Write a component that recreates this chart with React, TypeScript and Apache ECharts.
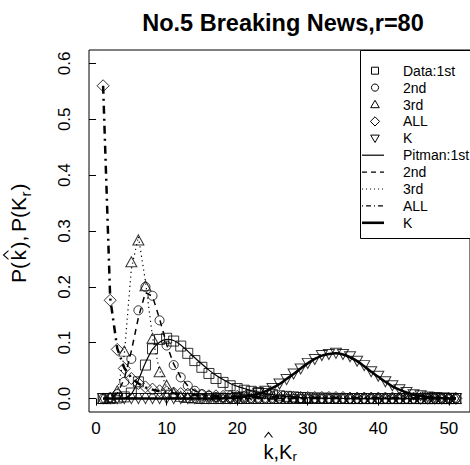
import React, { useEffect, useRef } from 'react';
import * as echarts from 'echarts';

const FONT = "'Liberation Sans', Arial, Helvetica, sans-serif";

const ks = [
  1, 2, 3, 4, 5, 6, 7, 8, 9, 10,
  11, 12, 13, 14, 15, 16, 17, 18, 19, 20,
  21, 22, 23, 24, 25, 26, 27, 28, 29, 30,
  31, 32, 33, 34, 35, 36, 37, 38, 39, 40,
  41, 42, 43, 44, 45, 46, 47, 48, 49, 50,
  51,
];

const data1st = [
  0, 0, 0.001, 0.003, 0.01, 0.03, 0.06, 0.089, 0.106, 0.108,
  0.103, 0.094, 0.081, 0.068, 0.056, 0.045, 0.036, 0.029, 0.023, 0.018,
  0.015, 0.013, 0.011, 0.009, 0.007, 0.005, 0.004, 0.003, 0.002, 0.0015,
  0.001, 0.0008, 0.0005, 0.0003, 0.0002, 0, 0, 0, 0, 0,
  0, 0, 0, 0, 0, 0, 0, 0, 0, 0,
  0,
];
const data2nd = [
  0, 0.002, 0.008, 0.03, 0.071, 0.158, 0.2, 0.184, 0.14, 0.095,
  0.06, 0.038, 0.023, 0.014, 0.008, 0.005, 0.003, 0.002, 0.001, 0.0005,
  0, 0, 0, 0, 0, 0, 0, 0, 0, 0,
  0, 0, 0, 0, 0, 0, 0, 0, 0, 0,
  0, 0, 0, 0, 0, 0, 0, 0, 0, 0,
  0,
];
const data3rd = [
  0, 0.002, 0.014, 0.085, 0.245, 0.284, 0.202, 0.108, 0.048, 0.024,
  0.01, 0.004, 0.002, 0.001, 0, 0, 0, 0, 0, 0,
  0, 0, 0, 0, 0, 0, 0, 0, 0, 0,
  0, 0, 0, 0, 0, 0, 0, 0, 0, 0,
  0, 0, 0, 0, 0, 0, 0, 0, 0, 0,
  0,
];
const dataAll = [
  0.56, 0.176, 0.088, 0.054, 0.036, 0.027, 0.021, 0.017, 0.014, 0.012,
  0.01, 0.009, 0.008, 0.007, 0.006, 0.005, 0.005, 0.004, 0.004, 0.004,
  0.003, 0.003, 0.003, 0.003, 0.003, 0.002, 0.002, 0.002, 0.002, 0.002,
  0.002, 0.002, 0.002, 0.002, 0.002, 0.001, 0.001, 0.001, 0.001, 0.001,
  0.001, 0.001, 0.001, 0.001, 0.001, 0.0005, 0.0005, 0.0005, 0.0005, 0.0005,
  0.0005,
];
const dataK = [
  0, 0, 0, 0, 0, 0, 0, 0, 0, 0,
  0, 0, 0, 0, 0, 0, 0, 0, 0, 0.002,
  0.003, 0.006, 0.009, 0.013, 0.018, 0.026, 0.034, 0.044, 0.053, 0.063,
  0.07, 0.077, 0.079, 0.081, 0.079, 0.075, 0.067, 0.059, 0.048, 0.04,
  0.03, 0.023, 0.016, 0.011, 0.007, 0.005, 0.003, 0.002, 0.001, 0.0005,
  0.0002,
];

const pit1st = [
  0, 0, 0, 0.001, 0.008, 0.033, 0.064, 0.088, 0.101, 0.106,
  0.104, 0.096, 0.085, 0.073, 0.062, 0.051, 0.042, 0.034, 0.027, 0.022,
  0.018, 0.014, 0.011, 0.009, 0.007, 0.005, 0.004, 0.003, 0.002, 0.0015,
  0.001, 0.0007, 0.0005, 0.0003, 0.0002, 0.0001, 0, 0, 0, 0,
  0, 0, 0, 0, 0, 0, 0, 0, 0, 0,
  0,
];
const pit2nd = [
  0, 0.001, 0.009, 0.035, 0.085, 0.145, 0.19, 0.183, 0.143, 0.097,
  0.062, 0.038, 0.023, 0.014, 0.008, 0.0045, 0.0025, 0.0014, 0.0008, 0.0004,
  0, 0, 0, 0, 0, 0, 0, 0, 0, 0,
  0, 0, 0, 0, 0, 0, 0, 0, 0, 0,
  0, 0, 0, 0, 0, 0, 0, 0, 0, 0,
  0,
];
const pit3rd = [
  0, 0.001, 0.012, 0.078, 0.232, 0.29, 0.21, 0.11, 0.05, 0.021,
  0.009, 0.004, 0.0015, 0.0006, 0, 0, 0, 0, 0, 0,
  0, 0, 0, 0, 0, 0, 0, 0, 0, 0,
  0, 0, 0, 0, 0, 0, 0, 0, 0, 0,
  0, 0, 0, 0, 0, 0, 0, 0, 0, 0,
  0,
];
const pitAll = [
  0.56, 0.18, 0.09, 0.055, 0.037, 0.027, 0.02, 0.016, 0.013, 0.011,
  0.0095, 0.0085, 0.0075, 0.0065, 0.006, 0.0055, 0.005, 0.0045, 0.004, 0.0038,
  0.0035, 0.0032, 0.003, 0.0028, 0.0026, 0.0024, 0.0022, 0.002, 0.0019, 0.0018,
  0.0017, 0.0016, 0.0015, 0.0014, 0.0013, 0.0012, 0.0012, 0.0011, 0.001, 0.001,
  0.0009, 0.0009, 0.0008, 0.0008, 0.0007, 0.0007, 0.0006, 0.0006, 0.0006, 0.0005,
  0.0005,
];
const pitK = [
  0, 0, 0, 0, 0, 0, 0, 0, 0, 0,
  0, 0, 0, 0, 0, 0, 0, 0.0005, 0.001, 0.002,
  0.0035, 0.0055, 0.0085, 0.013, 0.019, 0.026, 0.035, 0.044, 0.054, 0.063,
  0.071, 0.077, 0.08, 0.081, 0.079, 0.074, 0.067, 0.058, 0.048, 0.039,
  0.03, 0.022, 0.016, 0.011, 0.007, 0.0045, 0.0028, 0.0016, 0.0009, 0.0005,
  0.0002,
];

const xTicks = [0, 10, 20, 30, 40, 50];
const yTicks = [0, 0.1, 0.2, 0.3, 0.4, 0.5, 0.6];

const legendLabels = ['Data:1st', '2nd', '3rd', 'ALL', 'K', 'Pitman:1st', '2nd', '3rd', 'ALL', 'K'];
const titleText = 'No.5 Breaking News,r=80';

const pts = (vals: number[]) => ks.map((k, i) => [k, vals[i]]);

// text helper: place text so that its alphabetic baseline sits at y
const txt = (text: string, x: number, baseY: number, fs: number, extra: any = {}) => ({
  type: 'text',
  x,
  y: baseY - 0.3465 * fs,
  style: { text, fontSize: fs, fontFamily: FONT, fill: '#000', align: 'left', verticalAlign: 'middle', ...extra },
});

export default function App() {
  const ref = useRef<HTMLDivElement>(null);
  useEffect(() => {
    const chart = echarts.init(ref.current!, null, { renderer: 'svg' });
    const hollow = { color: 'rgba(0,0,0,0)', borderColor: '#000', borderWidth: 1 };
    const scatter = (name: string, vals: number[], symbol: string, size: any, rotate = 0) => ({
      type: 'scatter',
      name,
      data: pts(vals),
      symbol,
      symbolSize: size,
      symbolRotate: rotate,
      itemStyle: hollow,
      z: 3,
      silent: true,
    });
    const line = (name: string, vals: number[], width: number, type: any, smooth: any = false) => ({
      type: 'line',
      name,
      data: pts(vals),
      symbol: 'none',
      showSymbol: false,
      smooth,
      lineStyle: { color: '#000', width, type },
      itemStyle: { color: '#000' },
      z: 2,
      silent: true,
    });

    // ---- legend (drawn as graphic) ----
    const LX = 375; // symbol column centre
    const LTX = 403; // text column
    const row = (i: number) => 70.7 + 16.9 * i;
    const stroke = { stroke: '#000', fill: 'none', lineWidth: 1 };
    const legendEls: any[] = [
      {
        type: 'rect',
        shape: { x: 360.5, y: 50.5, width: 200, height: 188 },
        style: { fill: '#fff', stroke: '#000', lineWidth: 1 },
      },
      { type: 'rect', shape: { x: LX - 3.5, y: row(0) - 3.5, width: 7, height: 7 }, style: stroke },
      { type: 'circle', shape: { cx: LX, cy: row(1), r: 3.6 }, style: stroke },
      {
        type: 'polygon',
        shape: { points: [[LX, row(2) - 4.2], [LX + 4.3, row(2) + 3.2], [LX - 4.3, row(2) + 3.2]] },
        style: stroke,
      },
      {
        type: 'polygon',
        shape: { points: [[LX, row(3) - 4.6], [LX + 4.6, row(3)], [LX, row(3) + 4.6], [LX - 4.6, row(3)]] },
        style: stroke,
      },
      {
        type: 'polygon',
        shape: { points: [[LX - 4.3, row(4) - 3.2], [LX + 4.3, row(4) - 3.2], [LX, row(4) + 4.2]] },
        style: stroke,
      },
    ];
    const lineSpecs: any[] = [
      { w: 1.2, dash: null },
      { w: 1.3, dash: [5, 4] },
      { w: 1, dash: [1, 3] },
      { w: 1.3, dash: [1, 3, 5, 3] },
      { w: 2.6, dash: null },
    ];
    lineSpecs.forEach((s, j) => {
      const y = row(5 + j);
      legendEls.push({
        type: 'line',
        shape: { x1: 362, y1: y, x2: 384, y2: y },
        style: { stroke: '#000', lineWidth: s.w, lineDash: s.dash || undefined },
      });
    });
    legendLabels.forEach((t, i) => {
      legendEls.push({
        type: 'text',
        x: LTX,
        y: row(i),
        style: { text: t, fontSize: 14, fontFamily: FONT, fill: '#000', align: 'left', verticalAlign: 'middle' },
      });
    });

    // ---- axis titles ----
    const FS = 20;
    const SUB = 13;
    // x title: k-hat , K_r   centred at 280, baseline 459
    const x0 = 263.5;
    const xb = 459;
    const xTitle = {
      type: 'group',
      children: [
        txt('k', x0, xb, FS),
        txt(',K', x0 + 10, xb, FS),
        txt('r', x0 + 28.9, xb + 2.5, SUB),
        {
          type: 'polyline',
          shape: { points: [[x0 + 1, 437.5], [x0 + 5, 432.5], [x0 + 9, 437.5]] },
          style: { stroke: '#000', lineWidth: 1.1, fill: 'none' },
        },
      ],
    };
    // y title: P(k-hat),P(K_r) rotated, baseline at screen x=26, centred at y=232.5
    const YF = 21;
    const s0 = -50.4;
    const yTitle = {
      type: 'group',
      x: 26,
      y: 232.5,
      rotation: Math.PI / 2,
      children: [
        txt('P(', s0, 0, YF),
        txt('k', s0 + 22.5, 0, YF),
        txt('),', s0 + 34.5, 0, YF),
        txt('P(K', s0 + 50.8, 0, YF),
        txt('r', s0 + 86.3, 4.5, 15),
        txt(')', s0 + 92.3, 0, YF),
        {
          type: 'polyline',
          shape: {
            points: [
              [s0 + 23.6, -17.5],
              [s0 + 27.9, -22.5],
              [s0 + 32.2, -17.5],
            ],
          },
          style: { stroke: '#000', lineWidth: 1.1, fill: 'none' },
        },
      ],
    };

    chart.setOption({
      animation: false,
      backgroundColor: '#fff',
      title: {
        text: titleText,
        left: 283,
        top: 10.5,
        textAlign: 'center',
        padding: 0,
        textStyle: { fontFamily: FONT, fontSize: 23.5, fontWeight: 'bold', color: '#000' },
      },
      grid: {
        left: 89,
        top: 50,
        width: 393,
        height: 362,
        show: true,
        borderColor: '#000',
        borderWidth: 1,
        backgroundColor: 'rgba(0,0,0,0)',
      },
      xAxis: {
        type: 'value',
        min: -1,
        max: 53,
        splitLine: { show: false },
        axisLine: { show: false },
        axisTick: { show: true, length: 7, lineStyle: { color: '#000' }, customValues: xTicks },
        axisLabel: { margin: 7.5, fontSize: 17, fontFamily: FONT, color: '#000', customValues: xTicks },
      },
      yAxis: {
        type: 'value',
        min: -0.024,
        max: 0.624,
        splitLine: { show: false },
        axisLine: { show: false },
        axisTick: { show: true, length: 7, lineStyle: { color: '#000' }, customValues: yTicks },
        axisLabel: {
          rotate: 90,
          margin: 16,
          fontSize: 17,
          fontFamily: FONT,
          color: '#000',
          customValues: yTicks,
          formatter: (v: number) => v.toFixed(1),
        },
      },
      graphic: [
        { type: 'group', z: 10, children: legendEls },
        { ...xTitle, z: 10 },
        { ...yTitle, z: 10 },
      ],
      series: [
        scatter('Data:1st', data1st, 'rect', 10),
        scatter('Data:2nd', data2nd, 'circle', 9),
        scatter('Data:3rd', data3rd, 'triangle', [11, 10]),
        scatter('Data:ALL', dataAll, 'diamond', 12),
        scatter('Data:K', dataK, 'triangle', [11, 10], 180),
        line('Pitman:1st', pit1st, 1.2, 'solid', 0.25),
        line('Pitman:2nd', pit2nd, 1.5, [6, 5]),
        line('Pitman:3rd', pit3rd, 1.2, [1.2, 3.5]),
        line('Pitman:ALL', pitAll, 2.5, [8, 5, 2, 5]),
        line('Pitman:K', pitK, 2.5, 'solid', 0.25),
      ],
    });
    return () => chart.dispose();
  }, []);
  return (
    <div
      ref={ref}
      style={{ position: 'fixed', left: 0, top: 0, width: 470, height: 465, background: '#fff' }}
    />
  );
}
